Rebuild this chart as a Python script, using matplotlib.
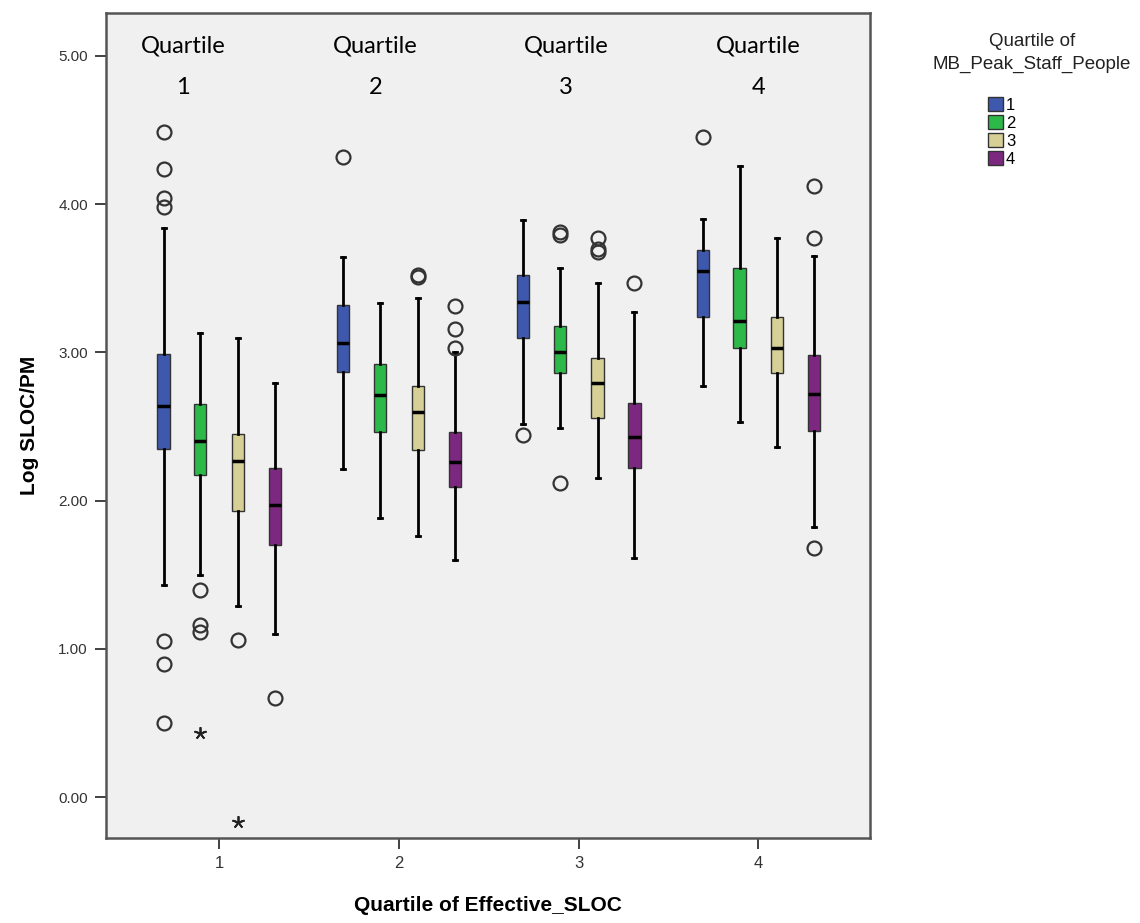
import numpy as np
import matplotlib.pyplot as plt
from matplotlib.patches import Patch

# ---------------- data ----------------
GROUPS = ["1", "2", "3", "4"]            # Quartile of Effective_SLOC
SUBS = ["1", "2", "3", "4"]              # Quartile of MB_Peak_Staff_People
COLORS = ["#3E58AE", "#2DB84A", "#D6D097", "#7C2880"]

# per group: [sub1, sub2, sub3, sub4]  -> (whislo, q1, med, q3, whishi)
STATS_G1 = [(1.43, 2.35, 2.64, 2.99, 3.84), (1.50, 2.17, 2.40, 2.65, 3.13),
            (1.29, 1.93, 2.27, 2.45, 3.10), (1.10, 1.70, 1.97, 2.22, 2.79)]
STATS_G2 = [(2.21, 2.87, 3.06, 3.32, 3.64), (1.88, 2.46, 2.71, 2.92, 3.33),
            (1.76, 2.34, 2.60, 2.77, 3.37), (1.60, 2.09, 2.26, 2.46, 3.00)]
STATS_G3 = [(2.52, 3.10, 3.34, 3.52, 3.89), (2.49, 2.86, 3.00, 3.18, 3.57),
            (2.15, 2.56, 2.79, 2.96, 3.47), (1.61, 2.22, 2.43, 2.66, 3.27)]
STATS_G4 = [(2.77, 3.24, 3.55, 3.69, 3.90), (2.53, 3.03, 3.21, 3.57, 4.26),
            (2.36, 2.86, 3.03, 3.24, 3.77), (1.82, 2.47, 2.72, 2.98, 3.65)]

OUT_G1 = [[4.49, 4.24, 4.04, 3.98, 1.05, 0.90, 0.50], [1.40, 1.16, 1.11], [1.06], [0.67]]
OUT_G2 = [[4.32], [], [3.52, 3.51], [3.31, 3.16, 3.03]]
OUT_G3 = [[2.44], [3.81, 3.79, 2.12], [3.77, 3.70, 3.68], [3.47]]
OUT_G4 = [[4.45], [], [], [4.12, 3.77, 1.68]]

EXTREME_G1 = [[], [0.43], [-0.17], []]

ALL_STATS = [STATS_G1, STATS_G2, STATS_G3, STATS_G4]
ALL_OUT = [OUT_G1, OUT_G2, OUT_G3, OUT_G4]
ALL_EXT = [EXTREME_G1, [[], [], [], []], [[], [], [], []], [[], [], [], []]]

OFFSETS = [-0.31, -0.105, 0.105, 0.31]

# ---------------- figure ----------------
plt.rcParams["font.family"] = ["Liberation Sans", "DejaVu Sans"]
fig = plt.figure(figsize=(11.4, 9.23), dpi=100)
ax = fig.add_axes([0.093, 0.092, 0.670, 0.894])
ax.set_facecolor("#F0F0F0")

for g, (stats_g, out_g, ext_g) in enumerate(zip(ALL_STATS, ALL_OUT, ALL_EXT)):
    for s in range(4):
        lo, q1, med, q3, hi = stats_g[s]
        pos = g + 1 + OFFSETS[s]
        st = [dict(whislo=lo, q1=q1, med=med, q3=q3, whishi=hi, fliers=[])]
        ax.bxp(st, positions=[pos], widths=0.068, capwidths=0.022,
               patch_artist=True, showfliers=False,
               boxprops=dict(facecolor=COLORS[s], edgecolor="#333333", lw=1.0),
               medianprops=dict(color="black", lw=2.5),
               whiskerprops=dict(color="black", lw=2.0),
               capprops=dict(color="black", lw=2.0))
        if out_g[s]:
            ax.plot([pos] * len(out_g[s]), out_g[s], "o", ms=10, mfc="none",
                    mec="#333333", mew=1.6)
        if ext_g[s]:
            ax.plot([pos] * len(ext_g[s]), ext_g[s], ls="none", marker=(5, 2, 0),
                    ms=9, color="#222222", mew=1.3)

ax.set_xlim(0.37, 4.62)
ax.set_ylim(-0.277, 5.29)
ax.set_xticks(range(1, 5))
ax.set_xticklabels(GROUPS, fontsize=12, color="#333333")
ax.set_yticks(np.arange(0, 5.01, 1.0))
ax.set_yticklabels([f"{v:.2f}" for v in np.arange(0, 5.01, 1.0)], fontsize=11, color="#333333")
ax.tick_params(length=8, width=1.3, color="#333333", pad=5)
for sp in ax.spines.values():
    sp.set_color("#555555")
    sp.set_linewidth(1.8)

ax.set_xlabel("Quartile of Effective_SLOC", fontsize=15, fontweight="bold", labelpad=18)
ax.set_ylabel("Log SLOC/PM", fontsize=15, fontweight="bold", labelpad=14)

# annotations at the top of each group
for xpos, lab in zip([0.80, 1.87, 2.93, 4.0], GROUPS):
    ax.text(xpos, 5.07, "Quartile", ha="center", va="center", fontsize=17,
            family=["Lato", "DejaVu Sans"])
    ax.text(xpos, 4.79, lab, ha="center", va="center", fontsize=17,
            family=["Lato", "DejaVu Sans"])

# legend
fig.text(0.905, 0.943, "Quartile of\nMB_Peak_Staff_People", ha="center", va="center",
         fontsize=13.5, color="#222222", linespacing=1.45)
handles = [Patch(facecolor=c, edgecolor="#333333", label=l) for c, l in zip(COLORS, SUBS)]
fig.legend(handles=handles, loc="upper left", bbox_to_anchor=(0.859, 0.904),
           frameon=False, fontsize=12, handlelength=0.9, handleheight=0.9,
           handletextpad=0.2, labelspacing=0.15, borderpad=0)

fig.savefig("out.png", dpi=100)
